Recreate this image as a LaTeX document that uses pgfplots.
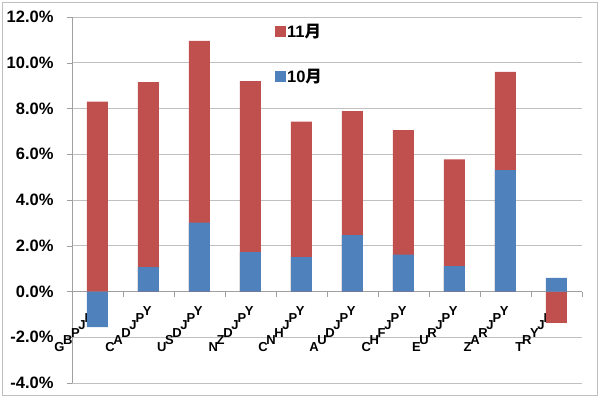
\documentclass[border=0pt]{standalone}
\usepackage{pgfplots}
\pgfplotsset{compat=1.18}
\usepackage{fontspec}
\setmainfont{Liberation Sans}
\newfontfamily\cjk{Noto Sans CJK JP}
\definecolor{redbar}{HTML}{C0504D}
\definecolor{bluebar}{HTML}{4F81BD}
\definecolor{gridc}{HTML}{C0C0C0}
\definecolor{axc}{HTML}{A0A0A0}
% diagonal (45 degree) label built from upright letters
\newdimen\dacc
\newcommand{\dl}[1]{\mbox{\dacc=0pt\dlstep#1\relax}}
\def\dlstep#1{\ifx\relax#1\else\setbox0=\hbox{#1}\raise\dacc\hbox to 0.85\wd0{\copy0\hss}\advance\dacc by 0.55em\expandafter\dlstep\fi}
\begin{document}
\begin{tikzpicture}
\begin{axis}[
  at={(0pt,0pt)}, anchor=south west,
  scale only axis, width=510pt, height=366pt,
  xmin=-0.5, xmax=9.5, ymin=-4, ymax=12,
  axis y line*=left, axis x line*=middle,
  axis line style={draw=axc},
  ymajorgrids, grid style={draw=gridc, line width=0.8pt},
  ytick={-4,-2,0,2,4,6,8,10,12},
  yticklabels={-4.0\%,-2.0\%,0.0\%,2.0\%,4.0\%,6.0\%,8.0\%,10.0\%,12.0\%},
  xtick={0,...,9},
  xticklabels={\dl{GBPJPY},\dl{CADJPY},\dl{USDJPY},\dl{NZDJPY},\dl{CNHJPY},\dl{AUDJPY},\dl{CHFJPY},\dl{EURJPY},\dl{ZARJPY},\dl{TRYJPY}},
  minor xtick={-0.5,0.5,...,9.5},
  tick align=outside,
  major tick length=5pt, minor tick length=5pt,
  major x tick style={draw=none},
  minor x tick style={draw=axc},
  ytick style={draw=axc},
  y tick label style={font=\fontsize{16.5}{19}\selectfont\bfseries, anchor=east, xshift=-10pt},
  x tick label style={font=\fontsize{13}{16}\selectfont\bfseries, anchor=north east, inner sep=0pt, xshift=2pt, yshift=-10pt},
  ybar, bar width=21pt, bar shift=0pt,
  legend style={at={(axis cs:3.42,11.85)}, anchor=north west, draw=none, fill=none,
    row sep=29pt, font=\fontsize{16.5}{19}\selectfont\bfseries,
    nodes={inner sep=1pt, anchor=west}},
  legend image code/.code={\fill[#1,draw=none] (0pt,-5.5pt) rectangle (11pt,5.5pt);},
  clip=false,
]
\addplot[fill=redbar, draw=none] coordinates {(0,8.30) (1,9.15) (2,10.96) (3,9.20) (4,7.43) (5,7.89) (6,7.06) (7,5.78) (8,9.60) (9,-1.37)};
\addlegendentry{11{\cjk\bfseries 月}}
\addplot[fill=bluebar, draw=none] coordinates {(0,-1.56) (1,1.07) (2,3.01) (3,1.72) (4,1.50) (5,2.46) (6,1.61) (7,1.11) (8,5.31) (9,0.60)};
\addlegendentry{10{\cjk\bfseries 月}}
\end{axis}
\draw[gray!50, line width=0.8pt] (-70pt,-12pt) rectangle (525pt,381pt);
\pgfresetboundingbox
\path (-72pt,-14pt) rectangle (528pt,383pt);
\end{tikzpicture}
\end{document}
